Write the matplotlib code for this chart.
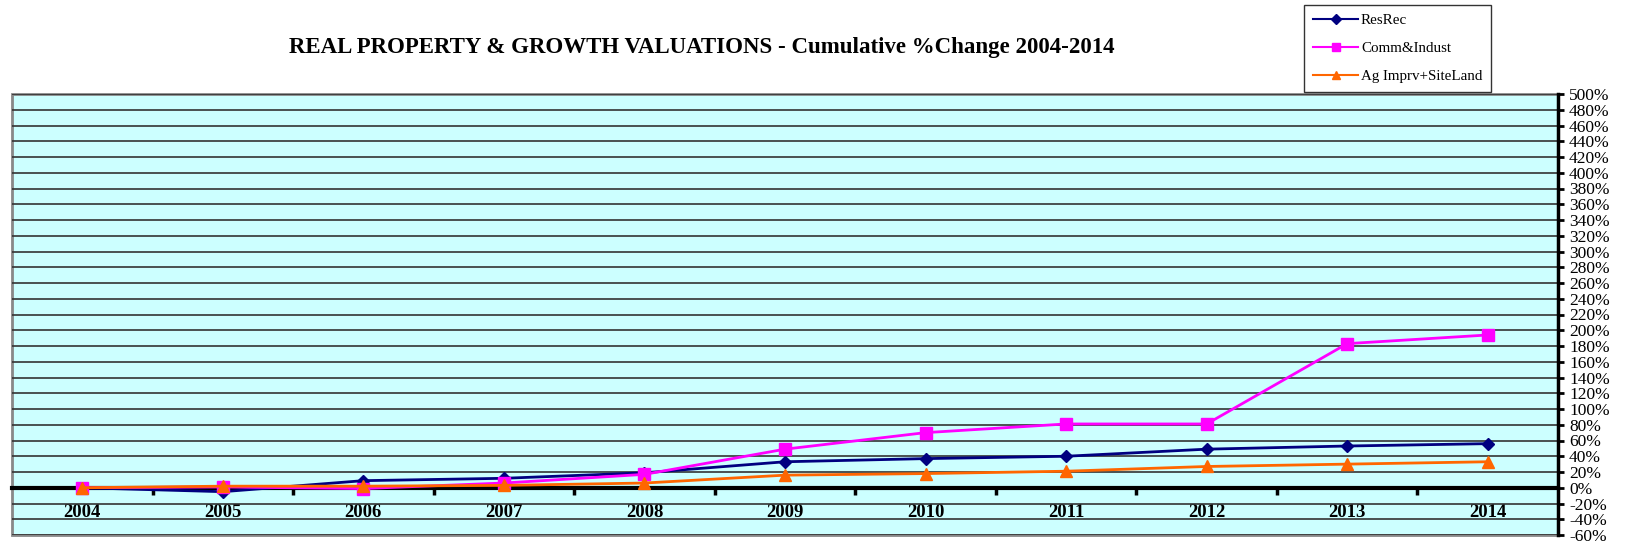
import matplotlib.pyplot as plt
from matplotlib.patches import Rectangle
import numpy as np

plt.rcParams['font.family'] = ['Liberation Serif', 'DejaVu Serif']

# Données (% cumulé)
annees = ['2004', '2005', '2006', '2007', '2008', '2009', '2010', '2011', '2012', '2013', '2014']
res_rec = [0, -5, 9, 12, 19, 33, 37, 40, 49, 53, 56]
comm_indust = [0, 1, -1, 6, 17, 49, 70, 81, 81, 183, 194]
ag_imprv = [0, 2, 2, 3, 6, 16, 18, 21, 27, 30, 33]

fig = plt.figure(figsize=(16.25, 5.44), dpi=100)
ax = fig.add_axes([12 / 1625, 1 - 535 / 544, 1546 / 1625, 441 / 544])
ax.set_facecolor('#CCFFFF')

# la position de l'axe x doit être fixée avant les ticks
ax.spines['bottom'].set_position(('data', 0))

x = np.arange(len(annees))
ax.plot(x, res_rec, c='#000080', lw=2, marker='D', ms=6, label='ResRec')
ax.plot(x, comm_indust, c='#FF00FF', lw=2, marker='s', ms=8, label='Comm&Indust')
ax.plot(x, ag_imprv, c='#FF6600', lw=2, marker='^', ms=8, label='Ag Imprv+SiteLand')

# Axes
ax.set_xlim(-0.5, len(annees) - 0.5)
ax.set_ylim(-60, 500)
ax.set_yticks(np.arange(-60, 501, 20))
ax.set_yticklabels([f'{v}%' for v in range(-60, 501, 20)], fontsize=12.5)
ax.yaxis.tick_right()
ax.tick_params(axis='y', direction='out', length=4, width=2, pad=4)
ax.grid(axis='y', color='#333333', lw=1.2)
ax.set_axisbelow(True)

ax.set_xticks(x)
ax.set_xticklabels(annees, fontsize=13.5, fontweight='bold')
ax.set_xticks(np.arange(0.5, len(annees) - 1, 1), minor=True)
ax.tick_params(axis='x', which='major', length=0, pad=12)
ax.tick_params(axis='x', which='minor', direction='out', length=5, width=2.5)

ax.spines['bottom'].set_linewidth(3)
ax.spines['bottom'].set_zorder(1.5)
for s in ['left', 'top']:
    ax.spines[s].set_visible(False)
ax.spines['right'].set_linewidth(2.5)
ax.add_patch(Rectangle((0, 0), 1, 1, transform=ax.transAxes, fill=False,
                       edgecolor='#888888', lw=2, clip_on=False, zorder=0.5))

# Titre et légende
fig.text(677 / 1568, 1 - 47 / 544, 'REAL PROPERTY & GROWTH VALUATIONS - Cumulative %Change 2004-2014',
         ha='center', va='center', fontsize=16.5, fontweight='bold')
leg = fig.legend(loc='upper left', bbox_to_anchor=(1304 / 1625, 1 - 5 / 544), fontsize=10.8,
                 fancybox=False, edgecolor='black', handlelength=3, handletextpad=0.2,
                 labelspacing=0.95, borderpad=0.6, borderaxespad=0, markerscale=0.8)
leg.get_frame().set_linewidth(1)
for l in leg.get_lines():
    l.set_linewidth(1.5)

fig.savefig('out.png', dpi=100)
